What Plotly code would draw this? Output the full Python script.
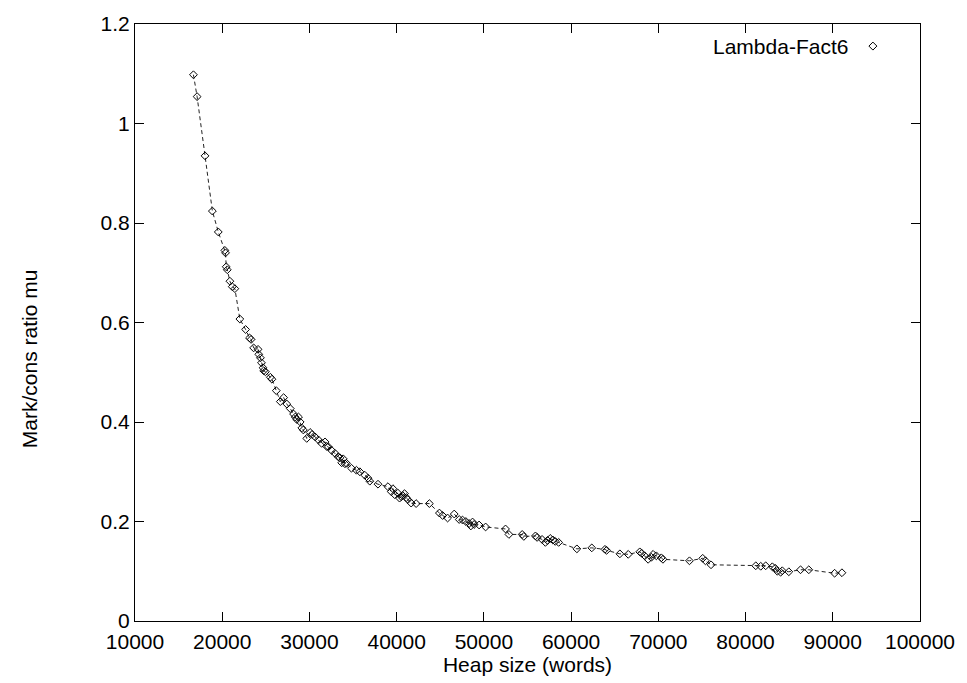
import plotly.graph_objects as go

# Heap size (words) and the measured mark/cons ratio for Lambda-Fact6
heap_words = [
    16700, 17120, 18030, 18870, 19550, 20300, 20380, 20460, 20580, 20880,
    21150, 21450, 22020, 22680, 23130, 23310, 23600, 24110, 24190, 24380,
    24500, 24680, 24760, 24950, 25520, 25700, 26200, 26660, 27040, 27410,
    27800, 28180, 28370, 28550, 28750, 28940, 29120, 29300, 29690, 30080,
    30300, 30650, 31030, 31400, 31790, 31970, 32170, 32540, 32930, 33300,
    33500, 33700, 33870, 34070, 34250, 34820, 35390, 35780, 36350, 36720,
    36920, 37860, 39000, 39380, 39570, 39770, 40140, 40330, 40520, 40700,
    40900, 41100, 41280, 41660, 42230, 43750, 44900, 45270, 45840, 46600,
    47170, 47550, 47930, 48310, 48500, 48700, 48880, 49450, 50200, 52480,
    52870, 54390, 54580, 55910, 56100, 56670, 57050, 57300, 57610, 57900,
    58180, 58570, 60660, 62370, 63880, 64070, 65590, 66550, 67870, 68100,
    68440, 68830, 69200, 69400, 69770, 70340, 70530, 73570, 75090, 75400,
    76040, 81170, 81740, 82310, 83070, 83400, 83640, 84020, 84210, 84960,
    86300, 87250, 90210, 91050,
]
mark_cons_mu = [
    1.098, 1.054, 0.935, 0.824, 0.782, 0.745, 0.740, 0.712, 0.706, 0.683,
    0.672, 0.668, 0.607, 0.586, 0.569, 0.566, 0.549, 0.546, 0.536, 0.529,
    0.519, 0.509, 0.503, 0.501, 0.490, 0.486, 0.463, 0.441, 0.449, 0.436,
    0.427, 0.416, 0.410, 0.405, 0.410, 0.400, 0.388, 0.384, 0.367, 0.379,
    0.375, 0.370, 0.364, 0.357, 0.360, 0.351, 0.350, 0.343, 0.337, 0.330,
    0.328, 0.318, 0.326, 0.316, 0.317, 0.307, 0.303, 0.300, 0.293, 0.287,
    0.281, 0.275, 0.270, 0.260, 0.266, 0.254, 0.257, 0.247, 0.250, 0.252,
    0.256, 0.248, 0.244, 0.237, 0.236, 0.236, 0.217, 0.212, 0.207, 0.215,
    0.204, 0.203, 0.200, 0.196, 0.191, 0.199, 0.194, 0.193, 0.189, 0.185,
    0.174, 0.174, 0.170, 0.171, 0.168, 0.164, 0.158, 0.162, 0.166, 0.163,
    0.160, 0.158, 0.145, 0.147, 0.144, 0.142, 0.135, 0.134, 0.139, 0.136,
    0.131, 0.124, 0.128, 0.134, 0.131, 0.127, 0.124, 0.121, 0.126, 0.121,
    0.113, 0.111, 0.110, 0.111, 0.109, 0.106, 0.100, 0.098, 0.101, 0.099,
    0.103, 0.103, 0.096, 0.097,
]

series_name = "Lambda-Fact6"
x_title = "Heap size (words)"
y_title = "Mark/cons ratio mu"
x_ticks = list(range(10000, 100001, 10000))
y_ticks = [0, 0.2, 0.4, 0.6, 0.8, 1, 1.2]

FONT = dict(family="Liberation Sans, Arial, Helvetica, sans-serif", size=21, color="black")

fig = go.Figure()

# dashed connecting line
fig.add_trace(go.Scatter(
    x=heap_words, y=mark_cons_mu, mode="lines",
    line=dict(color="#222222", width=1, dash="4px,3px"),
    showlegend=False, hoverinfo="skip",
))
# open diamond points
fig.add_trace(go.Scatter(
    x=heap_words, y=mark_cons_mu, mode="markers", name=series_name,
    marker=dict(symbol="diamond-open", size=6, color="black",
                line=dict(color="black", width=1)),
    showlegend=False,
))

axis_common = dict(
    showgrid=False, zeroline=False,
    showline=True, linecolor="black", linewidth=1, mirror="ticks",
    ticks="inside", ticklen=9, tickwidth=1, tickcolor="black",
    tickfont=FONT,
)

fig.update_xaxes(
    range=[10000, 100000], tickvals=x_ticks,
    ticktext=[str(v) for v in x_ticks],
    ticklabelstandoff=2,
    title=dict(text=x_title, font=FONT, standoff=0),
    **axis_common,
)
fig.update_yaxes(
    range=[0, 1.2], tickvals=y_ticks,
    ticktext=[f"{v:g}" for v in y_ticks],
    **axis_common,
)

# y-axis title, set a little below the middle of the axis
fig.add_annotation(
    x=-0.134, y=0.44, xref="paper", yref="paper",
    text=y_title, showarrow=False, textangle=-90,
    xanchor="center", yanchor="middle", font=FONT,
)

# key in the top-right corner: label followed by its marker sample
KEY_Y = 0.963
fig.add_annotation(
    x=0.911, y=KEY_Y, xref="paper", yref="paper",
    text=series_name, showarrow=False, xanchor="right", yanchor="middle",
    font=FONT,
)
fig.add_shape(
    type="path", xref="paper", yref="paper",
    xsizemode="pixel", ysizemode="pixel",
    xanchor=0.94, yanchor=KEY_Y,
    path="M -4 0 L 0 4 L 4 0 L 0 -4 Z",
    line=dict(color="black", width=1),
)

fig.update_layout(
    width=967, height=683,
    margin=dict(l=135, r=42, t=18, b=62),
    paper_bgcolor="white", plot_bgcolor="white",
    font=FONT,
)

fig.write_html("out.html")
